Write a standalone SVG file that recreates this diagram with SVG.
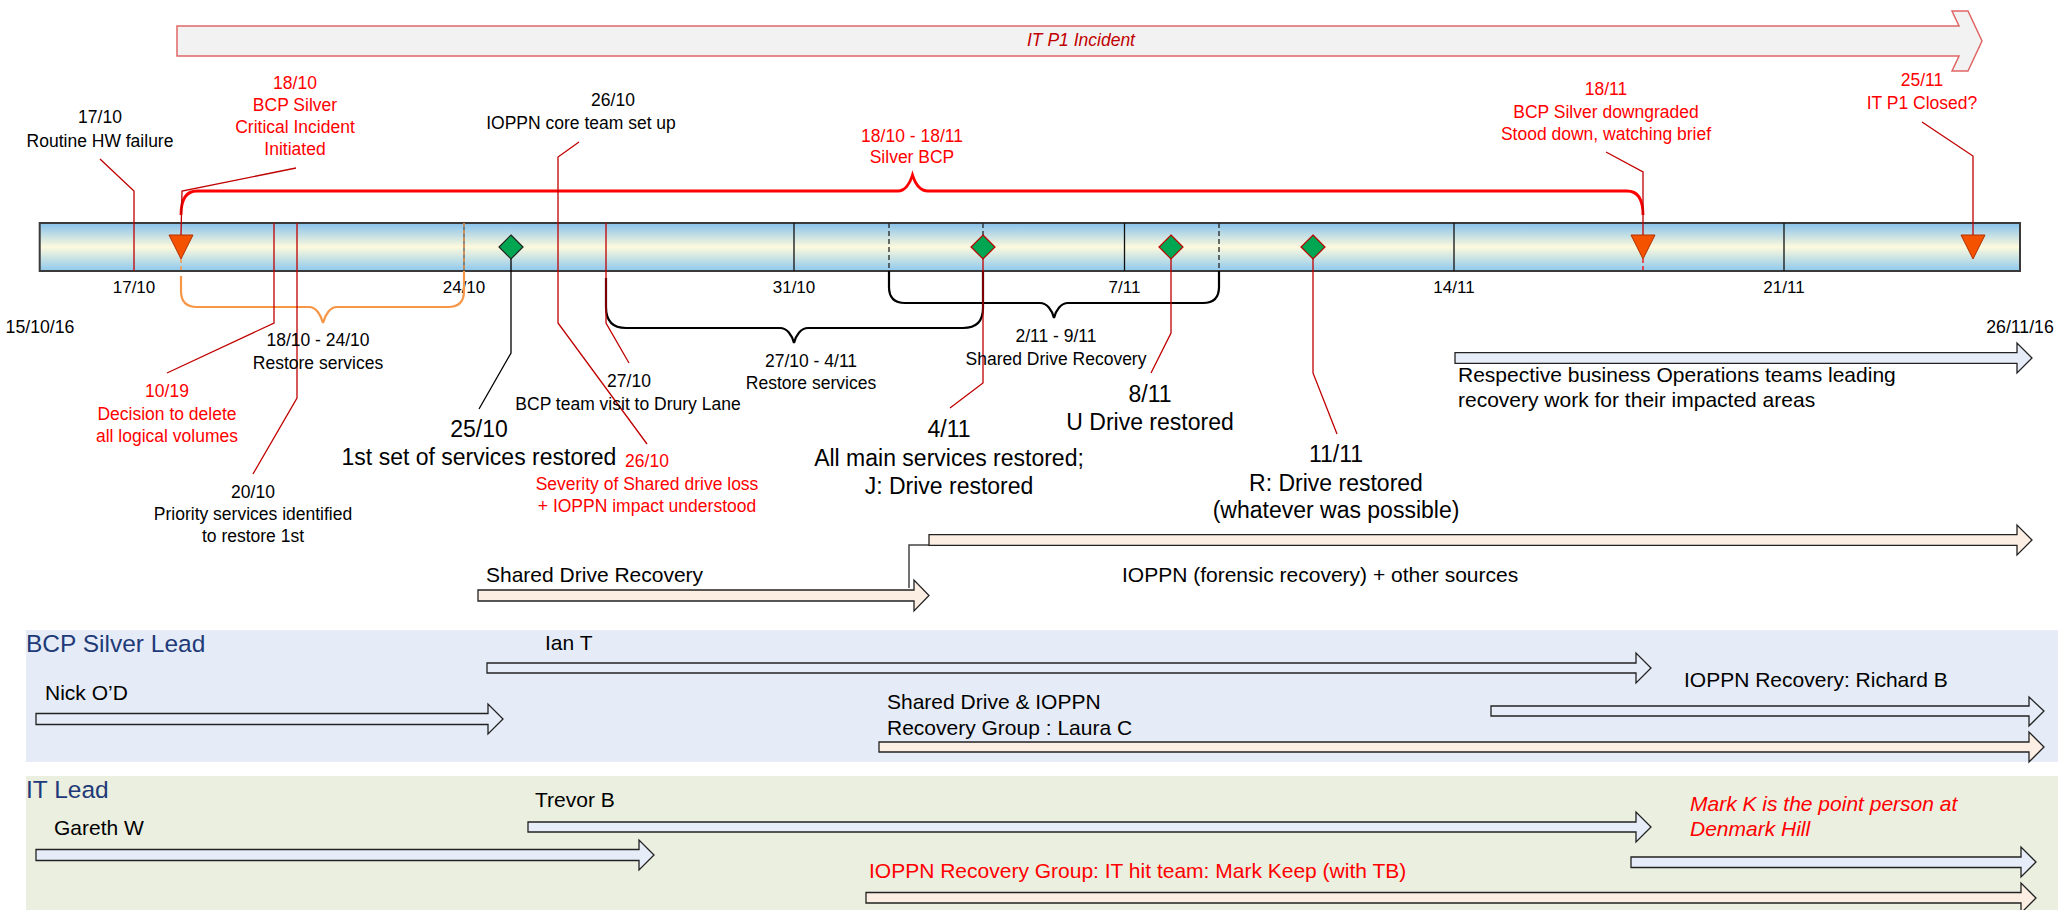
<svg xmlns="http://www.w3.org/2000/svg" width="2063" height="910" viewBox="0 0 2063 910">
  <defs>
    <linearGradient id="barFill" x1="0" y1="0" x2="0" y2="1">
      <stop offset="0" stop-color="#86c1eb"/>
      <stop offset="0.5" stop-color="#fdfadd"/>
      <stop offset="1" stop-color="#8ec8ed"/>
    </linearGradient>
    <style>
      text { font-family: "Liberation Sans", Arial, sans-serif; font-size: 17.5px; fill: #000; }
      .c { text-anchor: middle; }
      .r { fill: #ff0000; }
      .big { font-size: 23px; }
      .lg { font-size: 21px; }
      .lane { font-size: 24.5px; fill: #1f3a78; }
      .it { font-style: italic; }
      .callout { fill: none; stroke: #c00000; stroke-width: 1.3; }
      .blk { fill: none; stroke: #000; stroke-width: 1.3; }
      .tick { stroke: #111; stroke-width: 1.3; }
      .dash { stroke: #222; stroke-width: 1.3; stroke-dasharray: 5 3; }
      .brace-k { fill: none; stroke: #000; stroke-width: 2.2; }
      .brace-o { fill: none; stroke: #f79646; stroke-width: 2.2; }
      .brace-r { fill: none; stroke: #ff0000; stroke-width: 2.8; }
      .arrow-b { fill: #e6ecf8; stroke: #222; stroke-width: 1.3; }
      .arrow-p { fill: #fdeee3; stroke: #222; stroke-width: 1.3; }
      .tri { fill: #f55200; stroke: #b03000; stroke-width: 1; }
      .dia { fill: #00a651; stroke: #c00000; stroke-width: 1.2; }
      .date { font-size: 17px; }
    </style>
  </defs>

  <rect width="2063" height="910" fill="#ffffff"/>

  <!-- swimlane backgrounds -->
  <g id="lane-bcp">
    <rect x="26" y="630" width="2032" height="132" fill="#e6ecf7"/>
    <text class="lane" x="26" y="652">BCP Silver Lead</text>
  </g>
  <g id="lane-it">
    <rect x="26" y="776" width="2032" height="134" fill="#ebefdf"/>
    <text class="lane" x="26" y="798">IT Lead</text>
  </g>

  <!-- overall incident arrow -->
  <g id="it-p1-incident">
    <path d="M177,26 H1959 L1952,11 H1968 L1982,41 L1968,71 H1952 L1959,56 H177 Z" fill="#f2f2f2" stroke="#e06666" stroke-width="1.5"/>
    <text class="c it" x="1081" y="46" style="fill:#c00000">IT P1 Incident</text>
  </g>

  <!-- timeline bar with week ticks -->
  <g id="timeline">
    <rect x="39.7" y="223" width="1980.3" height="48" fill="url(#barFill)" stroke="#3a3a3a" stroke-width="2"/>
    <line class="tick" x1="794" y1="223" x2="794" y2="271"/>
    <line class="tick" x1="1124.5" y1="223" x2="1124.5" y2="271"/>
    <line class="tick" x1="1454" y1="223" x2="1454" y2="271"/>
    <line class="tick" x1="1784" y1="223" x2="1784" y2="271"/>
    <line class="dash" x1="889" y1="223" x2="889" y2="271"/>
    <line class="dash" x1="983" y1="223" x2="983" y2="236"/>
    <line class="dash" x1="1219" y1="223" x2="1219" y2="271"/>
    <line x1="464" y1="223" x2="464" y2="271" stroke="#555" stroke-width="1.3"/>
    <line x1="464" y1="223" x2="464" y2="271" stroke="#f79646" stroke-width="1.3" stroke-dasharray="4 3"/>
    <text class="c date" x="134" y="293">17/10</text>
    <text class="c date" x="464" y="293">24/10</text>
    <text class="c date" x="794" y="293">31/10</text>
    <text class="c date" x="1124.5" y="293">7/11</text>
    <text class="c date" x="1454" y="293">14/11</text>
    <text class="c date" x="1784" y="293">21/11</text>
    <text class="c" x="40" y="333" style="font-size:17.7px">15/10/16</text>
    <text class="c" x="2020" y="333" style="font-size:17.7px">26/11/16</text>
  </g>

  <!-- callout lines and range braces -->
  <g id="connectors">
    <!-- Silver BCP range brace -->
    <path class="brace-r" d="M181,215 Q181,191 197,191 L898,191 C905,191 910,183 912.5,175 C915,183 920,191 928,191 L1627,191 Q1643,191 1643,215"/>
    <!-- 18/10 - 24/10 restore brace -->
    <line x1="181" y1="259" x2="181" y2="271" stroke="#f79646" stroke-width="1.5" stroke-dasharray="4 3"/>
    <path class="brace-o" d="M181,276 L181,291 Q181,307 197,307 L309,307 C316,307 321,315 323,323 C325,315 330,307 337,307 L448,307 Q464,307 464,291 L464,271"/>
    <!-- 27/10 - 4/11 restore brace -->
    <path class="brace-k" d="M606,278 L606,307 Q606,328 626,328 L780,328 C787,328 792,335 794,343 C796,335 801,328 808,328 L963,328 Q983,328 983,308 L983,271"/>
    <!-- 2/11 - 9/11 shared drive brace -->
    <path class="brace-k" d="M889,271 L889,287 Q889,303 905,303 L1040,303 C1047,303 1052,310 1054,318 C1056,310 1061,303 1068,303 L1203,303 Q1219,303 1219,287 L1219,271"/>

    <polyline class="callout" points="100,159 134,191 134,271"/>
    <polyline class="callout" points="296,168 182,191 181,235"/>
    <polyline class="callout" points="274,223 274,323 167,373"/>
    <polyline class="callout" points="297,223 297,398 253,474"/>
    <polyline class="callout" points="579,142 558,157 558,323 647,444"/>
    <polyline class="callout" points="606,223 606,323 629,363"/>
    <polyline class="callout" points="983,259 983,383 950,408"/>
    <polyline class="callout" points="1171,259 1171,333 1151,373"/>
    <polyline class="callout" points="1313,259 1313,373 1337,434"/>
    <polyline class="callout" points="1606,152 1643,172 1643,235"/>
    <line x1="1643" y1="259" x2="1643" y2="271" stroke="#ff0000" stroke-width="1.3" stroke-dasharray="4 3"/>
    <polyline class="callout" points="1922,122 1973,156 1973,235"/>
    <polyline class="blk" points="511,259 511,353 479,409"/>
    <!-- hand-over from shared drive to forensic recovery -->
    <polyline points="909,588 909,545 929,545" fill="none" stroke="#444" stroke-width="1.5"/>
  </g>

  <!-- milestone markers -->
  <g id="markers">
    <polygon class="tri" points="169,235 193,235 181,259"/>
    <polygon class="tri" points="1631,235 1655,235 1643,259"/>
    <polygon class="tri" points="1961,235 1985,235 1973,259"/>
    <polygon class="dia" points="511,235 523,247 511,259 499,247" style="stroke:#222"/>
    <polygon class="dia" points="983,235 995,247 983,259 971,247"/>
    <polygon class="dia" points="1171,235 1183,247 1171,259 1159,247"/>
    <polygon class="dia" points="1313,235 1325,247 1313,259 1301,247"/>
  </g>

  <!-- event labels above the bar -->
  <g id="ev-hw-failure">
    <text class="c" x="100" y="123">17/10</text>
    <text class="c" x="100" y="147">Routine HW failure</text>
  </g>
  <g id="ev-bcp-silver">
    <text class="c r" x="295" y="89">18/10</text>
    <text class="c r" x="295" y="111">BCP Silver</text>
    <text class="c r" x="295" y="133">Critical Incident</text>
    <text class="c r" x="295" y="155">Initiated</text>
  </g>
  <g id="ev-core-team">
    <text class="c" x="613" y="106">26/10</text>
    <text class="c" x="581" y="129">IOPPN core team set up</text>
  </g>
  <g id="range-silver">
    <text class="c r" x="912" y="142">18/10 - 18/11</text>
    <text class="c r" x="912" y="163">Silver BCP</text>
  </g>
  <g id="ev-downgraded">
    <text class="c r" x="1606" y="95">18/11</text>
    <text class="c r" x="1606" y="118">BCP Silver downgraded</text>
    <text class="c r" x="1606" y="140">Stood down, watching brief</text>
  </g>
  <g id="ev-closed">
    <text class="c r" x="1922" y="86">25/11</text>
    <text class="c r" x="1922" y="109">IT P1 Closed?</text>
  </g>

  <!-- event labels below the bar -->
  <g id="range-restore-1">
    <text class="c" x="318" y="346">18/10 - 24/10</text>
    <text class="c" x="318" y="369">Restore services</text>
  </g>
  <g id="range-restore-2">
    <text class="c" x="811" y="367">27/10 - 4/11</text>
    <text class="c" x="811" y="389">Restore services</text>
  </g>
  <g id="range-shared-drive">
    <text class="c" x="1056" y="342">2/11 - 9/11</text>
    <text class="c" x="1056" y="365">Shared Drive Recovery</text>
  </g>
  <g id="ev-delete">
    <text class="c r" x="167" y="397">10/19</text>
    <text class="c r" x="167" y="420">Decision to delete</text>
    <text class="c r" x="167" y="442">all logical volumes</text>
  </g>
  <g id="ev-priority">
    <text class="c" x="253" y="498">20/10</text>
    <text class="c" x="253" y="520">Priority services identified</text>
    <text class="c" x="253" y="542">to restore 1st</text>
  </g>
  <g id="ev-first-set">
    <text class="c big" x="479" y="437">25/10</text>
    <text class="c big" x="479" y="465">1st set of services restored</text>
  </g>
  <g id="ev-severity">
    <text class="c r" x="647" y="467">26/10</text>
    <text class="c r" x="647" y="490">Severity of Shared drive loss</text>
    <text class="c r" x="647" y="512">+ IOPPN impact understood</text>
  </g>
  <g id="ev-drury-lane">
    <text class="c" x="629" y="387">27/10</text>
    <text class="c" x="628" y="410">BCP team visit to Drury Lane</text>
  </g>
  <g id="ev-main-services">
    <text class="c big" x="949" y="437">4/11</text>
    <text class="c big" x="949" y="466">All main services restored;</text>
    <text class="c big" x="949" y="494">J: Drive restored</text>
  </g>
  <g id="ev-u-drive">
    <text class="c big" x="1150" y="402">8/11</text>
    <text class="c big" x="1150" y="430">U Drive restored</text>
  </g>
  <g id="ev-r-drive">
    <text class="c big" x="1336" y="462">11/11</text>
    <text class="c big" x="1336" y="491">R: Drive restored</text>
    <text class="c big" x="1336" y="518">(whatever was possible)</text>
  </g>

  <!-- workstream arrows -->
  <g id="ws-business-ops">
    <path class="arrow-b" d="M1455,352.7 H2017 V343 L2032,358 L2017,373 V363.3 H1455 Z"/>
    <text class="lg" x="1458" y="382">Respective business Operations teams leading</text>
    <text class="lg" x="1458" y="407">recovery work for their impacted areas</text>
  </g>
  <g id="ws-shared-drive">
    <path class="arrow-p" d="M478,590 H914 V580 L929,595.5 L914,611 V601 H478 Z"/>
    <text class="lg" x="486" y="582">Shared Drive Recovery</text>
  </g>
  <g id="ws-forensic">
    <path class="arrow-p" d="M929,534.7 H2017 V525 L2032,540 L2017,555 V545.3 H929 Z"/>
    <text class="lg" x="1122" y="582">IOPPN (forensic recovery) + other sources</text>
  </g>

  <g id="lead-ian">
    <path class="arrow-b" d="M487,663 H1636 V653 L1651,668 L1636,683 V673 H487 Z"/>
    <text class="lg" x="545" y="650">Ian T</text>
  </g>
  <g id="lead-nick">
    <path class="arrow-b" d="M36,713.5 H488 V704 L503,719 L488,734 V724.5 H36 Z"/>
    <text class="lg" x="45" y="700">Nick O’D</text>
  </g>
  <g id="lead-richard">
    <path class="arrow-b" d="M1491,706 H2029 V697 L2044,711 L2029,726 V716 H1491 Z"/>
    <text class="lg" x="1684" y="687">IOPPN Recovery: Richard B</text>
  </g>
  <g id="lead-laura">
    <path class="arrow-p" d="M879,742 H2029 V732 L2044,747 L2029,762 V752 H879 Z"/>
    <text class="lg" x="887" y="709">Shared Drive &amp; IOPPN</text>
    <text class="lg" x="887" y="735">Recovery Group : Laura C</text>
  </g>
  <g id="lead-trevor">
    <path class="arrow-b" d="M528,822 H1636 V812 L1651,827 L1636,842 V832 H528 Z"/>
    <text class="lg" x="535" y="807">Trevor B</text>
  </g>
  <g id="lead-gareth">
    <path class="arrow-b" d="M36,849.5 H639 V840 L654,855 L639,870 V860.5 H36 Z"/>
    <text class="lg" x="54" y="835">Gareth W</text>
  </g>
  <g id="lead-mark-k">
    <path class="arrow-b" d="M1631,857 H2021 V847 L2036,862 L2021,877 V867.5 H1631 Z"/>
    <text class="lg r it" x="1690" y="811">Mark K is the point person at</text>
    <text class="lg r it" x="1690" y="836">Denmark Hill</text>
  </g>
  <g id="lead-it-hit-team">
    <path class="arrow-p" d="M866,892.5 H2021 V883 L2036,898 L2021,913 V903 H866 Z"/>
    <text class="lg r" x="869" y="878">IOPPN Recovery Group: IT hit team: Mark Keep (with TB)</text>
  </g>
</svg>
